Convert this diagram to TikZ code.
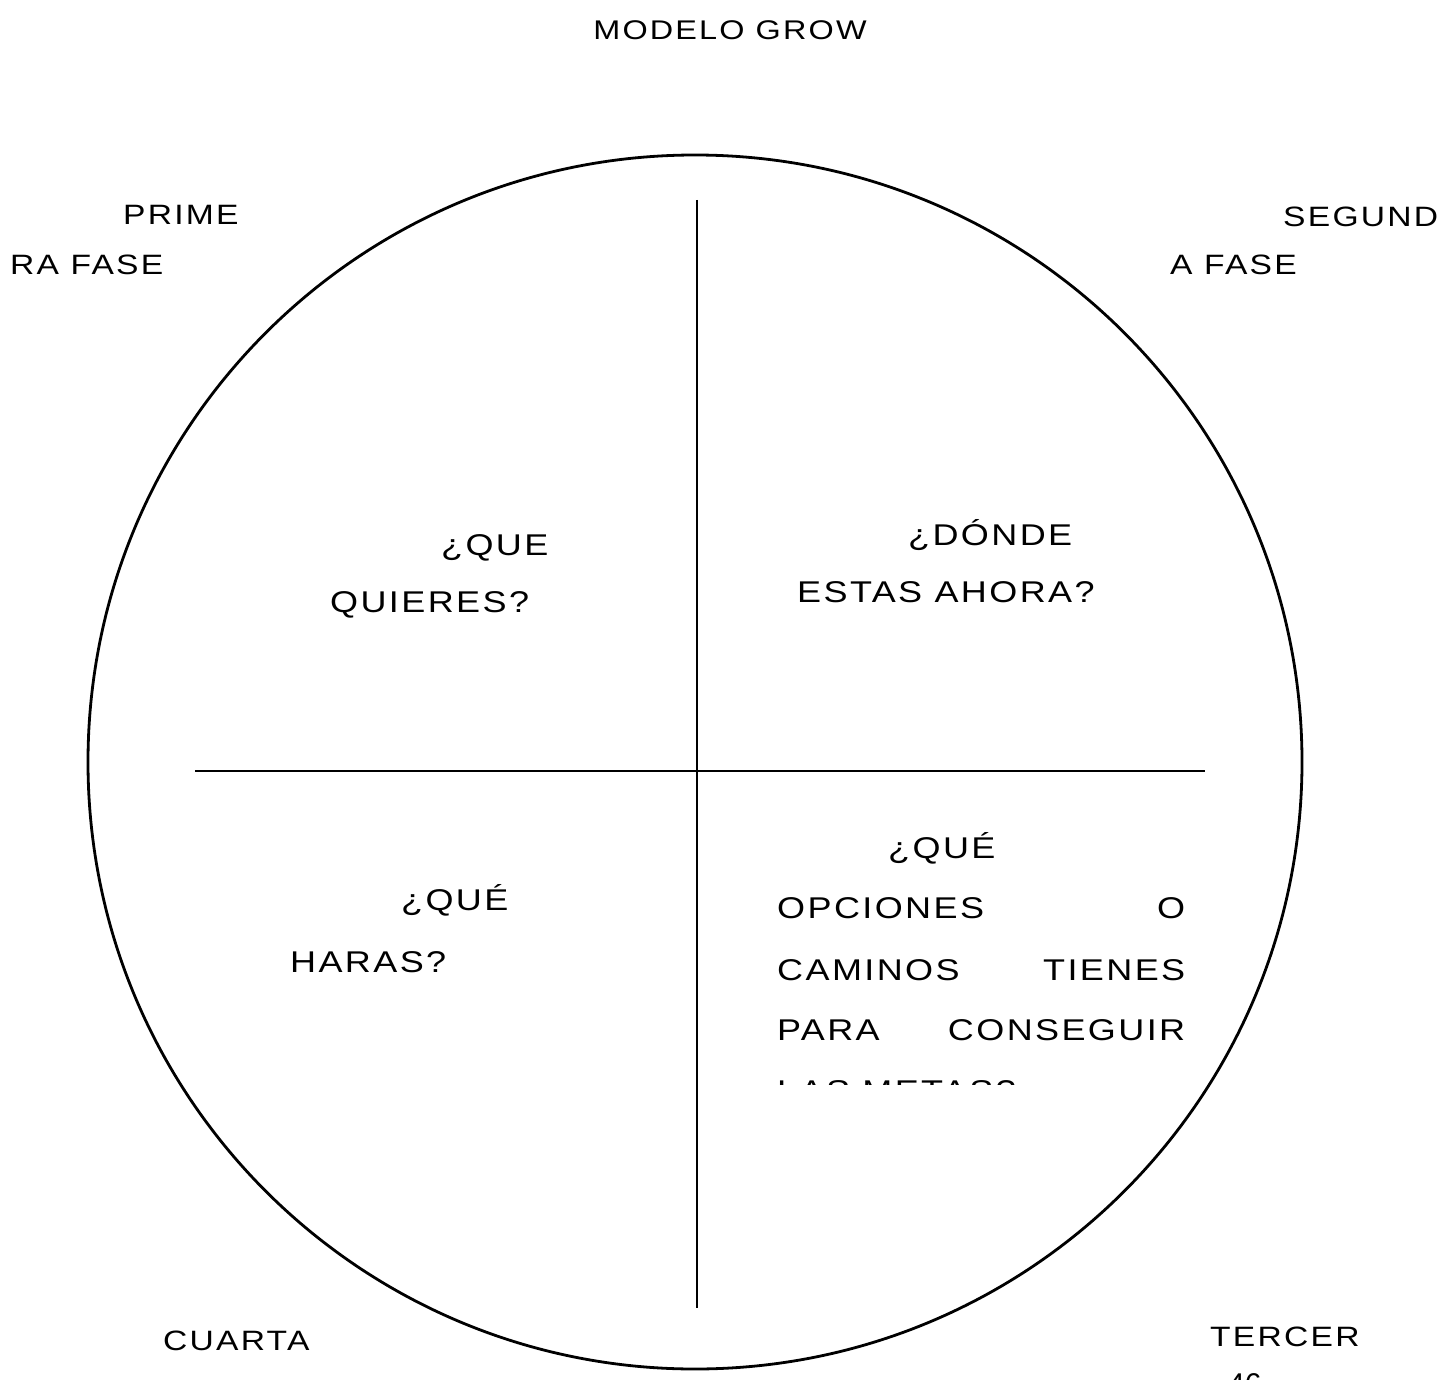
\documentclass[tikz,border=0pt]{standalone}
\usepackage{fontspec}
\setmainfont{Liberation Sans}[FakeStretch=1.2,LetterSpace=8]
\tikzset{
  lbl/.style={anchor=base west,inner sep=0pt,font=\fontsize{30}{36}\selectfont},
  fase/.style={lbl,font=\fontsize{28}{34}\selectfont},
  row/.style={lbl,text width=408pt,align=left},
}
\begin{document}
\begin{tikzpicture}[x=1pt,y=-1pt]
\useasboundingbox (0,0) rectangle (1453,1380);

\coordinate (c) at (695,762);
\coordinate (top) at (697,200);
\coordinate (bot) at (697,1308);
\coordinate (lft) at (195,771);
\coordinate (rgt) at (1205,771);

\draw[line width=2.8pt] (c) circle (607);
\draw[line width=1.2pt] (top) -- (bot);
\draw[line width=1.2pt] (lft) -- (rgt);

\node[anchor=base,inner sep=0pt,font=\fontsize{27}{32}\selectfont] (title) at (730,40) {MODELO GROW};

\node[fase] (f1a) at (123,225) {PRIME};
\node[fase] (f1b) at (10,275) {RA FASE};
\node[fase] (f2a) at (1283,227) {SEGUND};
\node[fase] (f2b) at (1170,275) {A FASE};
\node[fase] (f4) at (163,1350) {CUARTA};
\node[fase] (f3) at (1210,1346) {TERCER};

\node[lbl] (g1) at (441,555) {¿QUE};
\node[lbl] (g2) at (330,612) {QUIERES?};
\node[lbl] (r1) at (908,545) {¿DÓNDE};
\node[lbl] (r2) at (797,602) {ESTAS AHORA?};
\node[lbl] (w1) at (401,910) {¿QUÉ};
\node[lbl] (w2) at (290,972) {HARAS?};

\node[lbl] (o0) at (888,858) {¿QUÉ};
\node[row] (o1) at (777,918) {OPCIONES\hfill O};
\node[row] (o2) at (777,980) {CAMINOS\hfill TIENES};
\node[row] (o3) at (777,1040) {PARA\hfill CONSEGUIR};
\begin{scope}
\clip (700,1050) rectangle (1200,1084);
\node[lbl] (o4) at (777,1101) {LAS METAS?};
\end{scope}

\node[anchor=base west,inner sep=0pt,font=\fontsize{30}{36}\selectfont\addfontfeature{LetterSpace=0,FakeStretch=1}] (pg) at (1228,1394) {46};
\end{tikzpicture}
\end{document}
